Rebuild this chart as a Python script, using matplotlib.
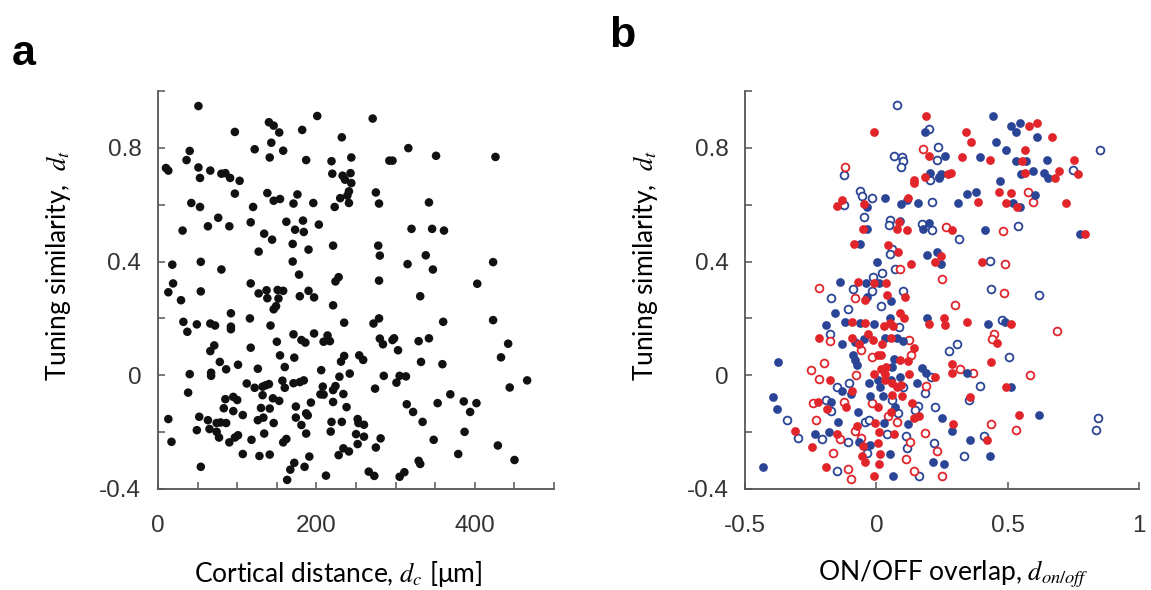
import matplotlib
matplotlib.use('Agg')
import matplotlib.pyplot as plt
from matplotlib.ticker import MultipleLocator

# panel a: cortical distance [um] vs tuning similarity
dist_a = [51, 201, 140, 146, 153, 97, 182, 232, 143, 122, 40, 158, 36, 141, 187, 219, 244, 10, 13, 51,
          66, 53, 80, 85, 91, 103, 220, 233, 243, 236, 244, 241, 239, 230, 241, 97, 138, 146, 154, 176,
          171, 196, 223, 42, 53, 120, 76, 31, 63, 90, 117, 134, 144, 162, 173, 183, 184, 203, 170, 190,
          127, 221, 18, 54, 80, 170, 178, 228, 224, 19, 117,
          271, 316, 351, 426, 292, 296, 275, 279, 342, 320, 346, 361, 278, 280, 338, 315, 347, 423, 279, 403,
          13, 54, 29, 127, 137, 138, 151, 158, 152, 179, 190, 197, 149, 146, 221, 92, 116, 32, 49, 37,
          66, 72, 92, 92, 142, 235, 150, 171, 181, 186, 197, 209, 214, 217, 71, 66, 117, 154, 172, 235,
          231, 254, 78, 86, 101, 40, 67, 67, 126, 160, 206, 229, 242, 112, 122, 132, 136, 140, 157, 171,
          179, 184, 160, 132, 145, 153, 38, 85, 95, 100, 208, 205, 209, 221, 224, 234, 221, 193, 83, 130,
          141, 174, 95, 238, 107, 187, 189, 13, 52, 63, 74, 79, 86, 126, 133, 146, 174, 181, 219, 232,
          252, 253, 49, 65, 74, 77, 101, 97, 134, 187, 218, 250, 17, 90, 118, 158, 162, 252, 107, 128,
          141, 191, 228, 234, 241, 54, 172, 167, 185, 163, 212,
          331, 272, 279, 360, 423, 280, 284, 296, 298, 303, 329, 342, 442, 259, 433, 332, 359, 285, 305, 313,
          301, 274, 466, 444, 369, 314, 353, 386, 402, 322, 394, 260, 334, 260, 281, 275, 387, 348, 429, 379,
          450, 329, 331, 266, 273, 305, 311]
sim_a = [0.947, 0.912, 0.890, 0.878, 0.854, 0.856, 0.863, 0.837, 0.818, 0.795, 0.789, 0.790, 0.757, 0.766, 0.757, 0.753, 0.766, 0.729, 0.720, 0.731,
         0.720, 0.694, 0.709, 0.711, 0.694, 0.684, 0.709, 0.702, 0.711, 0.688, 0.676, 0.647, 0.632, 0.623, 0.606, 0.639, 0.641, 0.614, 0.620, 0.636,
         0.604, 0.606, 0.592, 0.606, 0.592, 0.592, 0.554, 0.509, 0.524, 0.524, 0.538, 0.498, 0.477, 0.540, 0.512, 0.544, 0.504, 0.530, 0.462, 0.442,
         0.435, 0.456, 0.389, 0.399, 0.372, 0.400, 0.354, 0.345, 0.330, 0.323, 0.323,
         0.903, 0.799, 0.772, 0.768, 0.755, 0.755, 0.643, 0.604, 0.608, 0.515, 0.515, 0.509, 0.456, 0.421, 0.422, 0.391, 0.372, 0.398, 0.333, 0.322,
         0.292, 0.295, 0.264, 0.288, 0.299, 0.271, 0.300, 0.297, 0.270, 0.278, 0.297, 0.274, 0.243, 0.232, 0.246, 0.218, 0.200, 0.188, 0.179, 0.153,
         0.182, 0.175, 0.171, 0.162, 0.175, 0.185, 0.118, 0.144, 0.124, 0.115, 0.147, 0.118, 0.140, 0.120, 0.105, 0.085, 0.097, 0.070, 0.062, 0.068,
         0.048, 0.070, 0.047, 0.021, 0.037, 0.004, 0.009, -0.002, 0.023, 0.029, 0.018, -0.005, 0.006, -0.029, -0.044, -0.040, -0.035, -0.031, -0.019, -0.028,
         -0.024, -0.018, -0.044, -0.070, -0.081, -0.090, -0.061, -0.084, -0.076, -0.087, -0.040, -0.067, -0.068, -0.052, -0.038, -0.066, -0.094, -0.096, -0.116, -0.115,
         -0.117, -0.110, -0.126, -0.112, -0.140, -0.134, -0.141, -0.154, -0.146, -0.158, -0.168, -0.166, -0.168, -0.158, -0.149, -0.168, -0.149, -0.175, -0.164, -0.164,
         -0.154, -0.168, -0.193, -0.189, -0.199, -0.219, -0.211, -0.219, -0.205, -0.205, -0.198, -0.207, -0.234, -0.236, -0.227, -0.236, -0.224, -0.242, -0.277, -0.284,
         -0.279, -0.286, -0.281, -0.257, -0.268, -0.322, -0.308, -0.332, -0.322, -0.368, -0.353,
         0.278, 0.182, 0.200, 0.188, 0.194, 0.129, 0.109, 0.124, 0.130, 0.088, 0.120, 0.130, 0.111, 0.054, 0.063, 0.047, 0.039, -0.002, -0.002, -0.004,
         -0.026, -0.047, -0.018, -0.043, -0.067, -0.102, -0.098, -0.092, -0.098, -0.129, -0.129, -0.174, -0.164, -0.216, -0.222, -0.254, -0.199, -0.227, -0.247, -0.277,
         -0.298, -0.301, -0.312, -0.339, -0.354, -0.357, -0.341]

# panel b: ON/OFF overlap vs tuning similarity, four groups
bf_x = [0.186, 0.206, 0.238, 0.032, -0.037, 0.095, 0.116, 0.158, 0.090, 0.200, 0.177, -0.037, -0.062, 0.192, 0.230, 0.004, -0.139, -0.039, 0.011,
        0.444, 0.511, 0.546, 0.533, 0.610, 0.454, 0.495, 0.263, 0.396, 0.531, 0.571, 0.648, 0.637, 0.654, 0.597, 0.552, 0.240, 0.247, 0.472, 0.603,
        0.346, 0.380, 0.310, 0.520, 0.546, 0.415, 0.775, 0.247,
        -0.037, 0.055, -0.158, 0.052, 0.192, -0.118, -0.061, -0.008, -0.190, -0.131, -0.080, -0.046, 0.031, 0.079, 0.100, -0.090, 0.066, -0.080, -0.075,
        -0.374, 0.061, 0.173, 0.190, 0.090, 0.008, 0.055, -0.029, 0.012, 0.155, -0.131, -0.097, -0.024, 0.024, -0.392, -0.380, -0.173, -0.071, 0.071,
        -0.145, 0.028, 0.120, -0.233, -0.182, -0.068, -0.024, 0.050, -0.430, 0.062, 0.215,
        0.425, 0.489, 0.345, 0.511, 0.251, 0.289, 0.620, 0.355, 0.431, 0.256]
bf_y = [0.856, 0.713, 0.696, 0.622, 0.592, 0.604, 0.615, 0.607, 0.542, 0.535, 0.515, 0.515, 0.460, 0.422, 0.434, 0.398, 0.329, 0.323, 0.326,
        0.912, 0.877, 0.889, 0.854, 0.837, 0.819, 0.791, 0.772, 0.767, 0.755, 0.755, 0.758, 0.713, 0.694, 0.720, 0.709, 0.694, 0.709, 0.685, 0.635,
        0.639, 0.644, 0.606, 0.606, 0.592, 0.510, 0.498, 0.391,
        0.276, 0.263, 0.220, 0.200, 0.202, 0.188, 0.184, 0.181, 0.177, 0.111, 0.117, 0.129, 0.132, 0.130, 0.120, 0.070, 0.056, 0.053, 0.036,
        0.048, 0.029, 0.027, 0.007, -0.005, -0.016, -0.016, -0.026, -0.043, -0.028, -0.057, -0.067, -0.072, -0.072, -0.078, -0.117, -0.094, -0.129, -0.113,
        -0.164, -0.168, -0.172, -0.207, -0.201, -0.236, -0.246, -0.276, -0.322, -0.353, -0.306,
        0.182, 0.188, 0.009, -0.043, -0.151, -0.196, -0.140, -0.227, -0.285, -0.312]

rf_x = [0.190, -0.010, 0.200, 0.186, 0.142, 0.142, -0.129, -0.148, -0.046, 0.120, 0.087, 0.078, 0.117, -0.052, -0.084, 0.045, 0.084, 0.224, 0.130,
        -0.071, -0.010, 0.037,
        0.581, 0.610, 0.670, 0.340, 0.361, 0.565, 0.327, 0.431, 0.556, 0.753, 0.768, 0.695, 0.679, 0.565, 0.272, 0.283, 0.467, 0.514, 0.387,
        0.495, 0.536, 0.721, 0.289, 0.795, 0.247, 0.402,
        -0.043, 0.039, 0.109, 0.090, 0.104, 0.202, -0.093, -0.042, 0.028, 0.053, 0.063, -0.218, -0.093, -0.065, -0.033, -0.014, 0.020, 0.056, 0.145,
        0.018, 0.005, 0.090, 0.120, 0.018, 0.037, 0.031, -0.010, 0.225, -0.177, 0.126, 0.031, 0.061, 0.079, 0.092, -0.093, 0.061, 0.096, -0.224,
        -0.188, -0.116, 0.005, 0.056, 0.136, 0.164, 0.145, -0.074, -0.005, -0.310, -0.150, -0.052, 0.009, 0.007, 0.066, -0.245, -0.055, 0.014,
        -0.042, -0.192, 0.011, -0.010,
        0.256, 0.263, 0.346, 0.514, 0.461, 0.438, 0.289, 0.287, 0.495, 0.355, 0.291, 0.542, 0.423]
rf_y = [0.912, 0.856, 0.773, 0.696, 0.688, 0.678, 0.615, 0.594, 0.604, 0.624, 0.538, 0.515, 0.510, 0.515, 0.462, 0.457, 0.434, 0.398, 0.391,
        0.329, 0.323, 0.323,
        0.877, 0.889, 0.837, 0.854, 0.819, 0.791, 0.767, 0.758, 0.754, 0.758, 0.709, 0.720, 0.694, 0.711, 0.709, 0.711, 0.643, 0.641, 0.609,
        0.606, 0.592, 0.606, 0.510, 0.498, 0.421, 0.399,
        0.264, 0.281, 0.276, 0.220, 0.200, 0.179, 0.188, 0.184, 0.173, 0.184, 0.173, 0.130, 0.132, 0.109, 0.144, 0.123, 0.111, 0.130, 0.097,
        0.070, 0.070, 0.053, 0.049, 0.023, 0.029, 0.006, 0.006, -0.005, -0.016, 0.004, -0.016, -0.026, -0.041, -0.035, -0.057, -0.070, -0.072, -0.094,
        -0.117, -0.110, -0.113, -0.129, -0.098, -0.143, -0.149, -0.178, -0.168, -0.195, -0.207, -0.248, -0.199, -0.239, -0.205, -0.254, -0.283, -0.276,
        -0.304, -0.322, -0.312, -0.353,
        0.200, 0.177, 0.188, 0.182, 0.115, 0.048, 0.039, 0.008, -0.043, -0.077, -0.170, -0.140, -0.227]

bo_x = [0.079, 0.202, 0.230, 0.234, 0.069, 0.097, 0.100, 0.095, -0.122, 0.206, -0.061, -0.055, -0.016, -0.122, 0.213, -0.046, 0.052, 0.047,
        0.173, 0.210, 0.058, 0.052, 0.071, -0.014, 0.022, -0.088,
        0.851, 0.749, 0.313, 0.539, 0.434, 0.438,
        -0.016, 0.100, -0.171, 0.018, -0.109, 0.085, -0.177, 0.209, 0.103, 0.184, -0.148, -0.106, -0.192, -0.173, 0.058, 0.081, 0.158, 0.148,
        0.225, -0.339, -0.043, -0.027, -0.300, -0.207, -0.107, 0.039, 0.113, 0.117, 0.221, -0.035, -0.151, 0.161,
        0.620, 0.480, 0.275, 0.308, 0.505, 0.396, 0.351, 0.845, 0.838, 0.410, 0.333]
bo_y = [0.950, 0.866, 0.758, 0.802, 0.772, 0.768, 0.755, 0.734, 0.705, 0.688, 0.649, 0.632, 0.622, 0.600, 0.608, 0.557, 0.547, 0.530,
        0.532, 0.510, 0.444, 0.425, 0.374, 0.346, 0.358, 0.305,
        0.791, 0.723, 0.480, 0.526, 0.402, 0.304,
        0.296, 0.296, 0.273, 0.243, 0.234, 0.170, 0.144, -0.005, -0.040, -0.063, -0.042, -0.028, -0.086, -0.125, -0.086, -0.131, -0.107, -0.121,
        -0.113, -0.157, -0.166, -0.157, -0.219, -0.225, -0.234, -0.207, -0.215, -0.257, -0.239, -0.275, -0.338, -0.353,
        0.281, 0.196, 0.087, 0.109, 0.066, -0.037, -0.088, -0.152, -0.192, -0.213, -0.283]

ro_x = [0.177, -0.118, 0.090, -0.220,
        0.577, 0.597, 0.266, 0.482, 0.491, 0.251,
        -0.081, -0.177, -0.058, -0.016, 0.132, 0.123, -0.201, -0.249, -0.218, -0.078, 0.190, -0.240, -0.122, -0.016, -0.228, 0.046, 0.078,
        -0.140, -0.080, -0.058, 0.127, 0.184, 0.230, -0.167, 0.113, -0.109, -0.097, 0.142,
        0.485, 0.298, 0.686, 0.447, 0.440, 0.319, 0.368, 0.584, 0.435, 0.531, 0.249]
ro_y = [0.796, 0.732, 0.374, 0.308,
        0.644, 0.608, 0.520, 0.508, 0.392, 0.337,
        0.273, 0.120, 0.089, 0.064, 0.070, 0.124, 0.042, 0.019, -0.014, 0.001, -0.037, -0.098, -0.094, -0.096, -0.157, -0.145, -0.164,
        -0.225, -0.195, -0.219, -0.233, -0.204, -0.266, -0.275, -0.295, -0.330, -0.365, -0.338,
        0.290, 0.247, 0.155, 0.146, 0.126, 0.023, 0.007, 0.0, -0.173, -0.192, -0.353]

blue = '#2b4596'
red = '#e1252b'
tickfont = 'Liberation Sans'
labfont = 'Lato'
plt.rcParams['mathtext.fontset'] = 'stix'

fig = plt.figure(figsize=(11.51, 5.9), dpi=100)
axA = fig.add_axes([0.1373, 0.1712, 0.3441, 0.6746])
axB = fig.add_axes([0.6473, 0.1712, 0.3423, 0.6746])

axA.scatter(dist_a, sim_a, s=38, color='#111111', edgecolors='none', zorder=3)

axB.plot(bo_x, bo_y, 'o', ms=5.6, mfc='white', mec=blue, mew=1.3, zorder=3)
axB.plot(ro_x, ro_y, 'o', ms=5.6, mfc='white', mec=red, mew=1.3, zorder=3)
axB.plot(bf_x, bf_y, 'o', ms=6.3, mfc=blue, mec='none', zorder=4)
axB.plot(rf_x, rf_y, 'o', ms=6.3, mfc=red, mec='none', zorder=4)

axA.set_xlim(0, 500)
axA.xaxis.set_major_locator(MultipleLocator(200))
axA.xaxis.set_minor_locator(MultipleLocator(50))
axB.set_xlim(-0.5, 1.0)
axB.set_xticks([-0.5, 0, 0.5, 1])
axB.set_xticklabels(['-0.5', '0', '0.5', '1'])

for ax in (axA, axB):
    ax.set_ylim(-0.4, 1.0)
    ax.set_yticks([-0.4, 0, 0.4, 0.8])
    ax.set_yticklabels(['-0.4', '0', '0.4', '0.8'])
    ax.yaxis.set_minor_locator(MultipleLocator(0.2))
    for s in ('top', 'right'):
        ax.spines[s].set_visible(False)
    for s in ('left', 'bottom'):
        ax.spines[s].set_color('#555555')
        ax.spines[s].set_linewidth(1.3)
    ax.tick_params(which='both', direction='in', length=5, width=1.1, color='#555555')
    ax.tick_params(axis='x', which='both', pad=19)
    ax.tick_params(axis='y', which='both', pad=12)
    ax.tick_params(which='major', labelsize=17.5, labelcolor='#333333')
    for lab in ax.get_xticklabels() + ax.get_yticklabels():
        lab.set_fontfamily(tickfont)
    ax.set_ylabel('Tuning similarity,  $d_t$', fontsize=19, family=labfont)
    ax.yaxis.set_label_coords(-0.215, 0.56)

axA.set_xlabel('Cortical distance, $d_c$ [\u03bcm]', fontsize=19, family=labfont)
axA.xaxis.set_label_coords(0.455, -0.175)
axB.set_xlabel('ON/OFF overlap, $d_{on/off}$', fontsize=19, family=labfont)
axB.xaxis.set_label_coords(0.528, -0.175)

fig.text(0.010, 0.89, 'a', fontsize=31, fontweight='bold', family=tickfont)
fig.text(0.529, 0.92, 'b', fontsize=31, fontweight='bold', family=tickfont)

fig.savefig('out.png', dpi=100)
